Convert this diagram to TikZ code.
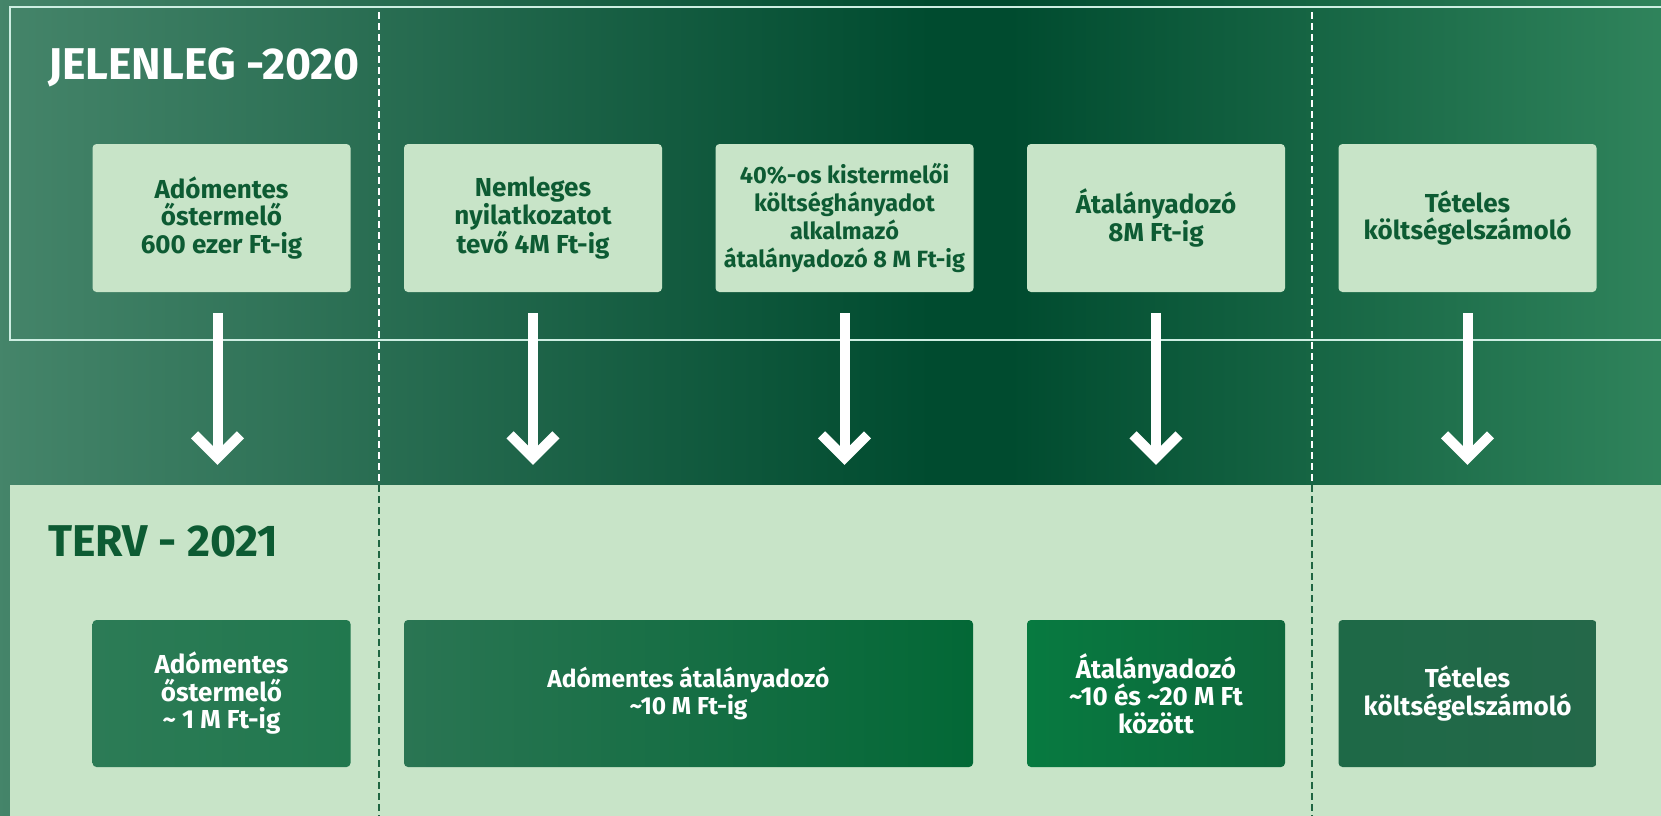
\documentclass[tikz,border=0pt]{standalone}
\usepackage{fontspec}
\setmainfont{Fira Sans}
\usetikzlibrary{calc}
\definecolor{bgL}{HTML}{45856A}
\definecolor{bgM}{HTML}{004B2F}
\definecolor{bgR}{HTML}{30845C}
\definecolor{mint}{HTML}{C8E4C8}
\definecolor{txtdark}{HTML}{0D5B33}
\definecolor{framec}{HTML}{CDEEE2}
\definecolor{dashg}{HTML}{1F6542}
\definecolor{b1L}{HTML}{2C7B56}
\definecolor{b1R}{HTML}{21784E}
\definecolor{b2L}{HTML}{2A7553}
\definecolor{b2M}{HTML}{077A40}
\definecolor{b2R}{HTML}{036836}
\definecolor{b3L}{HTML}{077A40}
\definecolor{b3R}{HTML}{0E683C}
\definecolor{b4L}{HTML}{1E6947}
\definecolor{b4R}{HTML}{246849}
\begin{document}
\begin{tikzpicture}[x=1pt,y=-1pt,
  topbox/.style={fill=mint, rounded corners=4pt, minimum width=258pt, minimum height=148pt,
    text=txtdark, align=center, inner sep=0pt, font=\bfseries\fontsize{26}{27.5}\selectfont},
  botbox/.style={rounded corners=4pt, minimum height=147pt,
    text=white, align=center, inner sep=0pt, font=\bfseries\fontsize{26}{27.5}\selectfont},
  arrline/.style={white, line width=10pt, miter limit=10},
  dashw/.style={white, line width=1.8pt, dash pattern=on 7pt off 4pt},
  dashd/.style={dashg, line width=2pt, dash pattern=on 7pt off 4pt},
  title/.style={anchor=base west, inner sep=0pt, font=\bfseries\fontsize{44.5}{44.5}\selectfont}
]
\useasboundingbox (0,0) rectangle (1661,815);
% background
\shade[left color=bgL, right color=bgM] (-5,-5) rectangle (931,825);
\fill[bgM] (930,-5) rectangle (1011,825);
\shade[left color=bgM, right color=bgR] (1010,-5) rectangle (1670,825);
\fill[mint] (10,485) rectangle (1670,825);
% frame
\draw[framec, line width=1.5pt] (1670,7) -- (10,7) -- (10,340) -- (1670,340);
% dashed separators
\draw[dashw] (379,12) -- (379,485);
\draw[dashd] (379,485) -- (379,820);
\draw[dashw] (1312,12) -- (1312,485);
\draw[dashd] (1312,485) -- (1312,820);
% titles
\node[title, text=white] (jel) at (48,79) {JELENLEG -2020};
\node[title, text=txtdark] (terv) at (48,556) {TERV - 2021};
% top boxes
\node[topbox] (t1) at (221.5,218) {Adómentes\\őstermelő\\600 ezer Ft-ig};
\node[topbox] (t2) at (533,218) {Nemleges\\nyilatkozatot\\tevő 4M Ft-ig};
\node[topbox, font=\bfseries\fontsize{23.5}{27.8}\selectfont] (t3) at (844.5,218) {40\%-os kistermelői\\költséghányadot\\alkalmazó\\átalányadozó 8 M Ft-ig};
\node[topbox] (t4) at (1156,218) {Átalányadozó\\8M Ft-ig};
\node[topbox] (t5) at (1467.5,218) {Tételes\\költségelszámoló};
% bottom boxes
\node[botbox, minimum width=258pt, left color=b1L, right color=b1R] (b1) at (221.5,693.5) {Adómentes\\őstermelő\\\textasciitilde{} 1 M Ft-ig};
\node[botbox, minimum width=569pt, left color=b2L, middle color=b2M, right color=b2R, font=\bfseries\fontsize{24.5}{27.5}\selectfont] (b2) at (688.5,693.5) {Adómentes átalányadozó\\\textasciitilde10 M Ft-ig};
\node[botbox, minimum width=258pt, left color=b3L, right color=b3R] (b3) at (1156,693.5) {Átalányadozó\\\textasciitilde10 és \textasciitilde20 M Ft\\között};
\node[botbox, minimum width=258pt, left color=b4L, right color=b4R] (b4) at (1467.5,693.5) {Tételes\\költségelszámoló};
% arrows
\foreach \t/\b/\dx in {t1/b1/-4, t2/b2/0, t3/b2/0, t4/b3/0, t5/b4/0}{
  \coordinate (s) at ([xshift=\dx pt, yshift=-21pt]\t.south);
  \coordinate (e) at ([yshift=162pt]\b.north -| s);
  \draw[arrline] (s) -- (e);
  \draw[arrline, line join=miter] ($(e)+(-23,-23)$) -- (e) -- ($(e)+(23,-23)$);
}
\end{tikzpicture}
\end{document}
